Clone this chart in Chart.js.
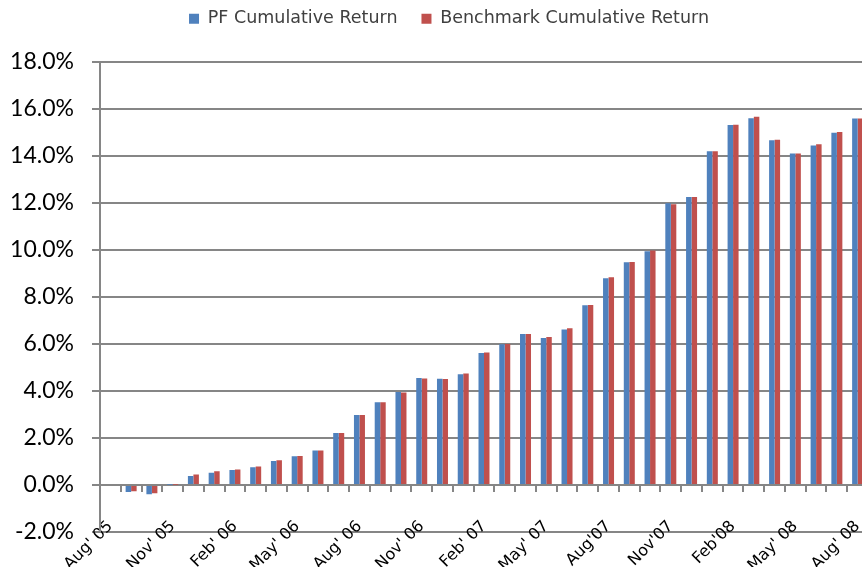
<!DOCTYPE html>
<html lang="en">
<head>
<meta charset="UTF-8">
<title>PF vs Benchmark Cumulative Return</title>
<script src="https://cdn.jsdelivr.net/npm/chart.js"></script>
<style>
    body {
        margin: 0;
        background: #fff;
        overflow: hidden;
    }

    .wrap {
        position: relative;
        width: 868px;
        height: 567px;
    }
</style>
</head>
<body>
<div class="wrap"><canvas id="returnChart"></canvas></div>
<script>
    // monthly categories, Aug 05 .. Aug 08 (only every third one is labelled)
    const months = [
        "Aug' 05", "Sep' 05", "Oct' 05", "Nov' 05", "Dec' 05", "Jan' 06",
        "Feb' 06", "Mar' 06", "Apr' 06", "May' 06", "Jun' 06", "Jul' 06",
        "Aug' 06", "Sep' 06", "Oct' 06", "Nov' 06", "Dec' 06", "Jan' 07",
        "Feb' 07", "Mar' 07", "Apr' 07", "May' 07", "Jun' 07", "Jul' 07",
        "Aug'07", "Sep'07", "Oct'07", "Nov'07", "Dec'07", "Jan'08",
        "Feb'08", "Mar'08", "Apr'08", "May' 08", "Jun' 08", "Jul' 08",
        "Aug' 08"
    ];

    // cumulative returns in %
    const pfReturn = [
        0, -0.30, -0.40, 0.01, 0.38, 0.52, 0.64, 0.75, 1.02, 1.22, 1.46, 2.21,
        2.97, 3.52, 3.95, 4.55, 4.51, 4.71, 5.61, 5.98, 6.42, 6.25, 6.61, 7.64,
        8.79, 9.47, 9.93, 11.97, 12.24, 14.19, 15.30, 15.59, 14.65, 14.09, 14.43, 14.97,
        15.58
    ];
    const benchReturn = [
        0, -0.27, -0.35, 0.01, 0.44, 0.58, 0.66, 0.78, 1.05, 1.23, 1.46, 2.21,
        2.97, 3.52, 3.93, 4.53, 4.50, 4.74, 5.63, 5.99, 6.42, 6.29, 6.66, 7.65,
        8.83, 9.48, 9.97, 11.93, 12.24, 14.19, 15.31, 15.65, 14.67, 14.09, 14.48, 15.00,
        15.58
    ];

    const yMin = -2, yMax = 18, yStep = 2;
    const labelEvery = 3;

    const axisGrey = "#868686";

    // more room under the legend, and nudge it right like the original
    const legendTweak = {
        id: "legendTweak",
        beforeInit(chart) {
            const origFit = chart.legend.fit;
            chart.legend.fit = function () {
                origFit.bind(chart.legend)();
                this.height += 24;
            };
        },
        afterLayout(chart) {
            chart.legend.left += 30;
        }
    };

    new Chart(document.getElementById("returnChart"), {
        type: "bar",
        data: {
            labels: months,
            datasets: [
                { label: "PF Cumulative Return", data: pfReturn, backgroundColor: "#4f81bd" },
                { label: "Benchmark Cumulative Return", data: benchReturn, backgroundColor: "#c0504d" }
            ]
        },
        options: {
            responsive: true,
            maintainAspectRatio: false,
            animation: false,
            layout: { padding: { top: -14, bottom: 35 } },
            datasets: {
                bar: { barPercentage: 1, categoryPercentage: 0.53 }
            },
            plugins: {
                tooltip: { enabled: false },
                legend: {
                    position: "top",
                    labels: {
                        boxWidth: 10,
                        boxHeight: 10,
                        padding: 24,
                        color: "#404040",
                        font: { family: "DejaVu Sans", size: 17.5 }
                    }
                }
            },
            scales: {
                // labels only; they ride up into the band between 0% and -2%
                x: {
                    position: { y: yMin },
                    offset: true,
                    grid: { display: false, drawTicks: false },
                    border: { display: false },
                    ticks: {
                        autoSkip: false,
                        minRotation: 45,
                        maxRotation: 45,
                        padding: -15,
                        color: "#000",
                        font: { family: "DejaVu Sans", size: 16 },
                        callback: (v, i) => (i % labelEvery === 0 ? months[i] : "")
                    }
                },
                // tick marks sitting on the zero line
                x0: {
                    type: "category",
                    position: { y: 0 },
                    offset: true,
                    grid: {
                        offset: true,
                        drawOnChartArea: false,
                        tickLength: 7,
                        color: axisGrey,
                        lineWidth: 2
                    },
                    border: { display: false },
                    ticks: { display: false }
                },
                y: {
                    min: yMin,
                    max: yMax,
                    grid: { color: axisGrey, lineWidth: 2, tickLength: 8 },
                    border: { display: true, color: axisGrey, width: 2 },
                    ticks: {
                        stepSize: yStep,
                        padding: 18,
                        color: "#000",
                        font: { family: "Lato", size: 23 },
                        callback: (v) => v.toFixed(1) + "%"
                    },
                    afterFit: (s) => { s.width = 100; }
                }
            }
        },
        plugins: [legendTweak]
    });
</script>
</body>
</html>
